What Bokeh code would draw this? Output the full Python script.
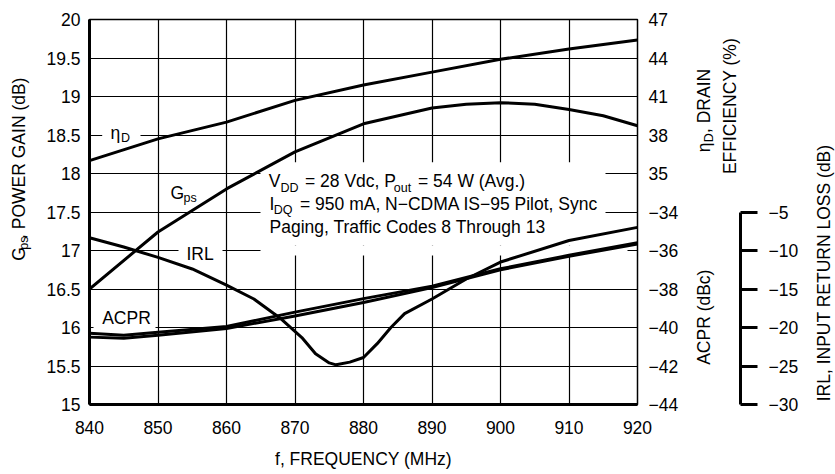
from bokeh.plotting import figure
from bokeh.layouts import row
from bokeh.models import Range1d, LinearAxis, FixedTicker, Label, BoxAnnotation
from bokeh.embed import file_html
from bokeh.resources import INLINE

# ---------------- data ----------------
freq_eta = [840, 850, 860, 870, 880, 890, 900, 910, 920]
eta = [36.0, 37.7, 39.0, 40.7, 41.9, 42.9, 43.9, 44.7, 45.4]

freq_gps = [840, 850, 860, 870, 880, 890, 895, 900, 905, 910, 915, 920]
gps = [16.5, 17.24, 17.8, 18.28, 18.645, 18.85, 18.9, 18.92, 18.9, 18.83, 18.75, 18.62]

freq_irl = [840, 845, 850, 855, 860, 864, 868, 871, 873, 875, 876, 878, 880,
            882, 884, 886, 890, 895, 900, 910, 920]
irl = [-8.35, -9.55, -10.9, -12.4, -14.5, -16.3, -18.9, -21.3, -23.4, -24.6, -24.85,
       -24.5, -23.9, -22.1, -20.0, -18.2, -16.3, -13.7, -11.5, -8.7, -7.0]

freq_acpr = [840, 845, 850, 860, 870, 880, 890, 900, 910, 920]
acpr_upper = [-40.3, -40.4, -40.25, -39.95, -39.2, -38.5, -37.85, -36.95, -36.25, -35.6]
acpr_lower = [-40.5, -40.56, -40.4, -40.05, -39.4, -38.7, -37.93, -37.0, -36.3, -35.66]

freq_ticks = [840, 850, 860, 870, 880, 890, 900, 910, 920]
gps_ticks = [15, 15.5, 16, 16.5, 17, 17.5, 18, 18.5, 19, 19.5, 20]
eta_ticks = [35, 38, 41, 44, 47]
acpr_ticks = [-44, -42, -40, -38, -36, -34]
irl_ticks = [-30, -25, -20, -15, -10, -5]

X_RANGE = (840, 920)
GPS_RANGE = (15, 20)
ETA_RANGE = (17, 47)
ACPR_RANGE = (-44, -24)
IRL_RANGE = (-30, 20)

FONT = "Liberation Sans"
FS_PX = 17.5
FS_SUB_PX = 12.5
FS = f"{FS_PX}px"
ROT = 1.5707963267948966
MID_SHIFT = 0.35  # baseline -> text middle, in em

# layout in picture pixels (Bokeh's page has no body margin)
TOTAL_W, H = 835, 474
FRAME_L, FRAME_R, FRAME_TOP, FRAME_BOT = 89, 637, 19, 404
W_LEFT = 36
MAIN_RB = 56
W_MAIN = FRAME_R + MAIN_RB - W_LEFT
MID_X0 = W_LEFT + W_MAIN
MID_FRAME_X1 = 740
MID_RB = 70
W_MID = MID_FRAME_X1 - MID_X0 + MID_RB
FAR_X0 = MID_X0 + W_MID
W_FAR = TOTAL_W - FAR_X0


def minus(v):
    return f"{v:g}".replace("-", "\u2212")


def style_axis(ax):
    ax.major_label_text_font = FONT
    ax.major_label_text_font_size = FS
    ax.major_label_text_color = "black"
    ax.minor_tick_line_color = None
    ax.minor_tick_out = 0
    ax.minor_tick_in = 0
    ax.major_tick_in = 0


# ======================= main plot =======================
p = figure(width=W_MAIN, height=H, output_backend="svg", toolbar_location=None,
           x_range=Range1d(*X_RANGE), y_range=Range1d(*GPS_RANGE),
           min_border_left=FRAME_L - W_LEFT, min_border_right=MAIN_RB,
           min_border_top=FRAME_TOP, min_border_bottom=H - FRAME_BOT,
           background_fill_color="white", border_fill_color="white",
           outline_line_color="black", outline_line_width=1.5)
p.extra_y_ranges = {"eta": Range1d(*ETA_RANGE), "acpr": Range1d(*ACPR_RANGE),
                    "irl": Range1d(*IRL_RANGE)}

xa = p.xaxis[0]
style_axis(xa)
xa.ticker = FixedTicker(ticks=freq_ticks)
xa.axis_line_width = 3
xa.major_tick_line_color = None
xa.major_tick_out = 0
xa.major_label_standoff = 16
xa.axis_label = "f, FREQUENCY (MHz)"
xa.axis_label_text_font = FONT
xa.axis_label_text_font_size = FS
xa.axis_label_text_font_style = "normal"
xa.axis_label_text_color = "black"
xa.axis_label_standoff = 12

ya = p.yaxis[0]
style_axis(ya)
ya.ticker = FixedTicker(ticks=gps_ticks)
ya.major_label_overrides = {t: f"{t:g}" for t in gps_ticks}
ya.axis_line_width = 3
ya.major_tick_line_color = None
ya.major_tick_out = 0
ya.major_label_standoff = 9

for g in (p.xgrid[0], p.ygrid[0]):
    g.grid_line_color = "black"
    g.grid_line_width = 1.2
    g.grid_line_alpha = 1.0


def acpr_to_eta(a):
    return ETA_RANGE[0] + (a - ACPR_RANGE[0]) * (ETA_RANGE[1] - ETA_RANGE[0]) / (ACPR_RANGE[1] - ACPR_RANGE[0])


comb_ticks = [acpr_to_eta(a) for a in acpr_ticks] + list(eta_ticks)
comb_labels = {acpr_to_eta(a): minus(a) for a in acpr_ticks}
comb_labels.update({e: f"{e:g}" for e in eta_ticks})
ra = LinearAxis(y_range_name="eta", ticker=FixedTicker(ticks=comb_ticks),
                major_label_overrides=comb_labels)
style_axis(ra)
ra.axis_line_color = None
ra.major_tick_line_color = None
ra.major_tick_out = 0
ra.major_label_standoff = 11
p.add_layout(ra, "right")


# reference-pixel -> data helpers for annotations inside the main frame
def dx(px):
    return X_RANGE[0] + (px - FRAME_L) * (X_RANGE[1] - X_RANGE[0]) / (FRAME_R - FRAME_L)


def dy(py):
    return GPS_RANGE[0] + (FRAME_BOT - py) * (GPS_RANGE[1] - GPS_RANGE[0]) / (FRAME_BOT - FRAME_TOP)


def blank(x0, x1, y0, y1):
    p.add_layout(BoxAnnotation(left=dx(x0), right=dx(x1), top=dy(y0), bottom=dy(y1),
                               fill_color="white", fill_alpha=1.0, line_color=None,
                               level="underlay"))


blank(101.7, 140, 128, 141)
blank(178, 222, 243, 258)
blank(93, 155, 312, 331)
blank(260, 605, 161.7, 245)
blank(260, 627, 245, 255)

lw = 3
p.line(freq_eta, eta, y_range_name="eta", line_color="black", line_width=lw, line_join="round")
p.line(freq_gps, gps, line_color="black", line_width=lw, line_join="round")
p.line(freq_irl, irl, y_range_name="irl", line_color="black", line_width=lw, line_join="round")
p.line(freq_acpr, acpr_upper, y_range_name="acpr", line_color="black", line_width=lw, line_join="round")
p.line(freq_acpr, acpr_lower, y_range_name="acpr", line_color="black", line_width=lw, line_join="round")


def label(fig, s, x, y, size=FS_PX, angle=0.0, align="left", y_range_name="default"):
    fig.add_layout(Label(x=x, y=y, text=s, text_font=FONT, text_font_size=f"{size}px",
                         text_color="black", angle=angle, text_align=align,
                         text_baseline="middle", y_range_name=y_range_name))


def txt(s, px, py, size=FS_PX):
    # (px, py): start of the text baseline in picture pixels
    label(p, s, dx(px), dy(py - MID_SHIFT * size), size=size)


def vtxt(fig, s, px, py, size=FS_PX, align="left", y_range_name="default"):
    # rotated text reading bottom-to-top; px is the baseline position
    label(fig, s, px - MID_SHIFT * size, py, size=size, angle=ROT, align=align,
          y_range_name=y_range_name)


txt("\u03b7", 110, 139)
txt("D", 120.5, 141.5, size=FS_SUB_PX)
txt("G", 170, 198.3)
txt("ps", 183, 202, size=FS_SUB_PX)
txt("IRL", 186, 260)
txt("ACPR", 101.7, 324)

txt("V", 268.3, 186.7)
txt("DD", 280, 191.7, size=FS_SUB_PX)
txt("= 28 Vdc, P", 304.5, 186.7)
txt("out", 393.3, 192, size=FS_SUB_PX)
txt("= 54 W (Avg.)", 417.5, 186.7)
txt("I", 269, 209.3)
txt("DQ", 273.3, 214, size=FS_SUB_PX)
txt("= 950 mA, N\u2212CDMA IS\u221295 Pilot, Sync", 299.5, 209.3)
txt("Paging, Traffic Codes 8 Through 13", 269, 232.7)


# ======================= side strips =======================
def strip(width, x0):
    f = figure(width=width, height=H, output_backend="svg", toolbar_location=None,
               x_range=Range1d(x0, x0 + width), y_range=Range1d(H, 0),
               x_axis_location=None, y_axis_location=None, min_border=0,
               outline_line_color=None, background_fill_color="white",
               border_fill_color="white")
    f.grid.visible = False
    return f


left = strip(W_LEFT, 0)
vtxt(left, "G", 25, 297)
vtxt(left, "ps", 28, 283.4, size=FS_SUB_PX)
vtxt(left, ", POWER GAIN (dB)", 25, 270.2)

# middle strip: right-hand titles + IRL axis
m = figure(width=W_MID, height=H, output_backend="svg", toolbar_location=None,
           x_range=Range1d(MID_X0, MID_FRAME_X1), y_range=Range1d(*IRL_RANGE),
           x_axis_location=None, y_axis_location="right",
           min_border_left=0, min_border_right=MID_RB, min_border_top=FRAME_TOP,
           min_border_bottom=H - FRAME_BOT, outline_line_color=None,
           background_fill_color="white", border_fill_color="white")
m.extra_y_ranges = {"px": Range1d(FRAME_BOT, FRAME_TOP)}
m.grid.visible = False
ia = m.yaxis[0]
style_axis(ia)
ia.ticker = FixedTicker(ticks=irl_ticks)
ia.bounds = (irl_ticks[0], irl_ticks[-1])
ia.major_label_overrides = {t: minus(t) for t in irl_ticks}
ia.axis_line_width = 3
ia.axis_line_color = "black"
ia.major_tick_line_width = 3
ia.major_tick_line_color = "black"
ia.major_tick_out = 17
ia.major_label_standoff = 11

vtxt(m, "\u03b7", 710, 151.7, y_range_name="px")
vtxt(m, "D", 713, 141.7, size=FS_SUB_PX, y_range_name="px")
vtxt(m, ", DRAIN", 710, 132.5, y_range_name="px")
vtxt(m, "EFFICIENCY (%)", 736, 105.5, align="center", y_range_name="px")
vtxt(m, "ACPR (dBc)", 710, 316.7, align="center", y_range_name="px")

far = strip(W_FAR, FAR_X0)
vtxt(far, "IRL, INPUT RETURN LOSS (dB)", 829.5, 312, align="center")

layout = row(left, p, m, far)
open("out.html", "w").write(file_html(layout, INLINE))
